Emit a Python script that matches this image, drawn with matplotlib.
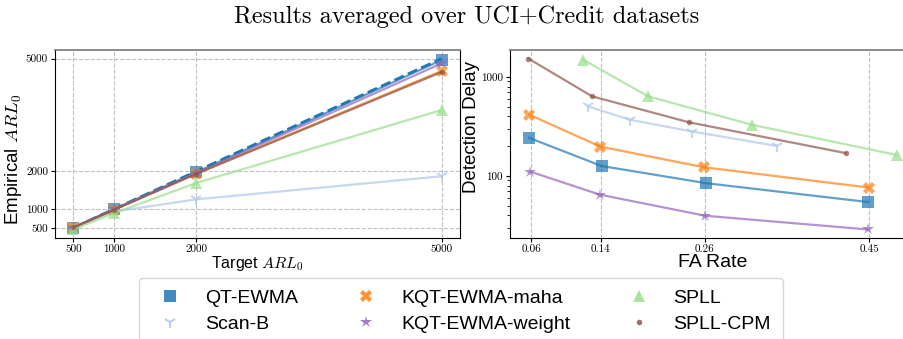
import numpy as np
import matplotlib
matplotlib.use("Agg")
import matplotlib.pyplot as plt
from matplotlib.ticker import FixedLocator, NullFormatter

plt.rcParams['font.family'] = ['Liberation Sans', 'DejaVu Sans']
plt.rcParams['mathtext.fontset'] = 'cm'
plt.rcParams['axes.formatter.use_mathtext'] = True

# --- data ---
methods = ['QT-EWMA', 'Scan-B', 'KQT-EWMA-maha', 'KQT-EWMA-weight', 'SPLL', 'SPLL-CPM']
colors = ['#1f77b4', '#aec7e8', '#ff7f0e', '#9467bd', '#98df8a', '#8c564b']
markers = ['s', '1', 'X', '*', '^', 'o']
msizes = [8, 9, 8, 9, 9, 4]

target_arl = [500, 1000, 2000, 5000]
emp_qt = [505, 1000, 1975, 4960]
emp_scanb = [540, 930, 1255, 1870]
emp_maha = [500, 985, 1940, 4670]
emp_weight = [500, 990, 1950, 4870]
emp_spll = [455, 890, 1690, 3630]
emp_cpm = [510, 980, 1930, 4640]

fa_qt = [0.057, 0.141, 0.262, 0.4485]
dd_qt = [243, 126, 84.4, 54.5]
fa_scanb = [0.125, 0.1735, 0.2457, 0.343]
dd_scanb = [505, 370, 281, 201]
fa_maha = [0.0577, 0.1395, 0.2589, 0.45]
dd_maha = [415, 198, 122.5, 76.2]
fa_weight = [0.0585, 0.139, 0.2608, 0.4485]
dd_weight = [110.7, 64.7, 39.6, 28.8]
fa_spll = [0.1195, 0.1947, 0.3144, 0.4816]
dd_spll = [1499, 637, 329, 163]
fa_cpm = [0.0565, 0.130, 0.242, 0.423]
dd_cpm = [1534, 637, 348, 170]

fa_ticks = [0.06, 0.14, 0.26, 0.45]

emp_all = [emp_qt, emp_scanb, emp_maha, emp_weight, emp_spll, emp_cpm]
fa_all = [fa_qt, fa_scanb, fa_maha, fa_weight, fa_spll, fa_cpm]
dd_all = [dd_qt, dd_scanb, dd_maha, dd_weight, dd_spll, dd_cpm]

fig = plt.figure(figsize=(9.04, 3.39), dpi=100)
ax1 = fig.add_axes([55 / 904, 1 - 238 / 339, 405 / 904, 188 / 339])
ax2 = fig.add_axes([510 / 904, 1 - 238 / 339, 405 / 904, 188 / 339])

tick_font = dict(family='cmr10', size=8)


def mew_for(mk):
    # open marker needs an edge, filled ones look flat in the reference
    return 1.5 if mk == '1' else 0


# left: empirical ARL0 vs target
ax1.plot(target_arl, target_arl, '--', color='#1f77b4', lw=2, zorder=1)
for i, m in enumerate(methods):
    ax1.plot(target_arl, emp_all[i], color=colors[i], marker=markers[i],
             ms=msizes[i], lw=1.6, alpha=0.7, mew=mew_for(markers[i]), label=m)
ax1.set_xticks(target_arl)
ax1.set_yticks(target_arl)
ax1.set_xticklabels([str(v) for v in target_arl], **tick_font)
ax1.set_yticklabels([str(v) for v in target_arl], **tick_font)
ax1.grid(True, ls='--', color='#c0c0c0', lw=0.8)
ax1.set_xlabel('Target $ARL_0$', fontsize=11.5, labelpad=0)
ax1.set_ylabel('Empirical $ARL_0$', fontsize=13.5)
ax1.yaxis.set_label_coords(-0.077, 0.42)

# right: detection delay vs false alarm rate
for i, m in enumerate(methods):
    ax2.plot(fa_all[i], dd_all[i], color=colors[i], marker=markers[i],
             ms=msizes[i], lw=1.6, alpha=0.7, mew=mew_for(markers[i]))
ax2.set_yscale('log')
ax2.set_xticks(fa_ticks)
ax2.set_xticklabels([f'{v:.2f}' for v in fa_ticks], **tick_font)
ax2.yaxis.set_major_locator(FixedLocator([100, 1000]))
ax2.set_yticklabels(['100', '1000'], **tick_font)
ax2.yaxis.set_minor_formatter(NullFormatter())
ax2.grid(True, axis='x', ls='--', color='#c0c0c0', lw=0.8)
ax2.set_xlabel('FA Rate', fontsize=14, labelpad=0)
ax2.set_ylabel('Detection Delay', fontsize=13.5)
ax2.yaxis.set_label_coords(-0.073, 0.59)

for ax in (ax1, ax2):
    ax.set_axisbelow(True)
    ax.spines['top'].set_color('#777777')
    ax.spines['top'].set_linewidth(1.2)
    ax.tick_params(length=3, pad=2)

fig.suptitle('Results averaged over UCI+Credit datasets', family='cmr10',
             fontsize=17.5, x=467 / 904, y=0.985)

handles = []
for i, m in enumerate(methods):
    h, = ax1.plot([], [], ls='none', color=colors[i], marker=markers[i],
                  ms=msizes[i], mew=mew_for(markers[i]), alpha=0.85, label=m)
    handles.append(h)
fig.legend(handles=handles, loc='upper center', ncol=3, fontsize=14,
           bbox_to_anchor=(461 / 904, 1 - 278 / 339), frameon=True,
           edgecolor='#cccccc', handletextpad=0.8, borderaxespad=0,
           borderpad=0.6, labelspacing=0.4, columnspacing=2.5)

fig.savefig('out.png', dpi=100)
